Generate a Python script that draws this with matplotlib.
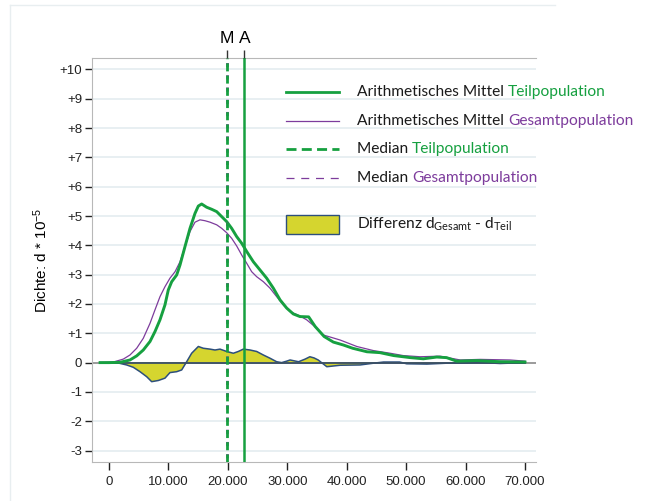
import numpy as np
import matplotlib
matplotlib.use("Agg")
import matplotlib.pyplot as plt
from matplotlib.lines import Line2D
from matplotlib.patches import Rectangle

plt.rcParams['font.family'] = ['Liberation Sans', 'DejaVu Sans']
plt.rcParams['mathtext.default'] = 'regular'

# density of the sub population (green), values in 1e-5
teil_x = [-1500, 0, 1850, 3530, 4660, 5770, 6900, 7740, 8580, 9420, 9980, 10550,
          11390, 11950, 12790, 13630, 14470, 15030, 15590, 16430, 17280, 18120, 18960,
          19800, 20640, 21480, 22330, 23170, 24290, 25410, 26530, 27650, 28780, 29900,
          31010, 32140, 33600, 34700, 36200, 37750, 39450, 41000, 43400, 45600, 47900,
          50700, 52900, 55150, 56800, 58500, 61900, 65800, 70000]
teil_y = [0, 0, 0.01, 0.09, 0.23, 0.43, 0.72, 1.06, 1.46, 1.97, 2.48, 2.76,
          2.99, 3.33, 3.96, 4.58, 5.09, 5.34, 5.41, 5.30, 5.23, 5.15, 4.98,
          4.81, 4.58, 4.30, 4.07, 3.79, 3.44, 3.16, 2.88, 2.54, 2.14, 1.86,
          1.66, 1.57, 1.56, 1.23, 0.89, 0.70, 0.60, 0.49, 0.37, 0.34, 0.24,
          0.17, 0.13, 0.19, 0.17, 0.05, 0.07, 0.03, 0.02]

# density of the whole population (purple)
ges_x = [-1500, 730, 2410, 3530, 4660, 5770, 6900, 7740, 8580, 9420, 10260, 11110,
         11950, 12790, 13630, 14470, 15310, 16150, 17000, 18120, 18960, 19800, 20640,
         21480, 22330, 23170, 24010, 24850, 25970, 27090, 28210, 29330, 30460, 32140,
         33260, 34800, 36100, 38900, 41700, 44500, 47300, 49500, 52350, 55700, 59100,
         62450, 67500, 70000]
ges_y = [0, 0.02, 0.12, 0.26, 0.49, 0.83, 1.34, 1.80, 2.25, 2.59, 2.88, 3.10,
         3.44, 3.96, 4.47, 4.79, 4.87, 4.84, 4.79, 4.70, 4.58, 4.43, 4.24,
         3.98, 3.67, 3.39, 3.10, 2.93, 2.76, 2.54, 2.25, 1.97, 1.74, 1.59,
         1.46, 1.20, 0.94, 0.77, 0.55, 0.41, 0.32, 0.24, 0.20, 0.22, 0.09,
         0.11, 0.09, 0.05]

# difference band (yellow)
diff_x = [-1500, 1290, 2970, 4090, 5220, 6340, 7180, 8300, 9420, 10260, 11390, 12230,
          13070, 13910, 15030, 15870, 17000, 17840, 18680, 19800, 20920, 21760, 22600,
          23730, 24850, 25970, 27090, 28210, 29050, 29900, 30470, 31900, 33000, 33800,
          34500, 35200, 36650, 38900, 42250, 44500, 46200, 48900, 50100, 53500, 56800,
          59200, 62000, 65800, 70000]
diff_y = [0, 0, -0.08, -0.16, -0.31, -0.48, -0.65, -0.61, -0.53, -0.34, -0.31, -0.25,
          0.03, 0.32, 0.55, 0.49, 0.46, 0.43, 0.46, 0.38, 0.32, 0.38, 0.46,
          0.43, 0.38, 0.26, 0.15, 0.03, 0.0, 0.05, 0.09, 0.03, 0.12, 0.20,
          0.16, 0.09, -0.14, -0.09, -0.08, -0.02, 0.02, 0.02, -0.04, -0.05, -0.02,
          -0.02, 0.01, -0.03, 0]

median_x = 19800
mean_x = 22770

yticks = [10, 9, 8, 7, 6, 5, 4, 3, 2, 1, 0, -1, -2, -3]
ytick_labels = ['+10', '+9', '+8', '+7', '+6', '+5', '+4', '+3', '+2', '+1', '0', '-1', '-2', '-3']
xticks = [0, 10000, 20000, 30000, 40000, 50000, 60000, 70000]
xtick_labels = ['0', '10.000', '20.000', '30.000', '40.000', '50.000', '60.000', '70.000']

GREEN = '#16a040'
PURPLE = '#7d3c9c'
YELLOW = '#d5d52f'
EDGE = '#2d4f7c'
GRID = '#e4ecf0'
SPINE = '#b8b8b8'

W, H = 651, 501
fig = plt.figure(figsize=(W / 100, H / 100), dpi=100)

def fx(px):
    return px / W

def fy(py):
    return 1 - py / H

# light frame around chart
fig.add_artist(Line2D([fx(10), fx(10)], [fy(5), 0], color='#e8eef0', lw=1))
fig.add_artist(Line2D([fx(10), fx(555)], [fy(5), fy(5)], color='#e8eef0', lw=1))

ax = fig.add_axes([fx(92), fy(462), fx(536) - fx(92), fy(58) - fy(462)])
ax.set_xlim(-2860, 71850)
ax.set_ylim(-3.39, 10.39)

for yv in yticks:
    if yv != 0:
        ax.axhline(yv, color=GRID, lw=1.2, zorder=0)
ax.axhline(0, color='#8a8a8a', lw=1.2, zorder=1)

ax.fill_between(diff_x, 0, diff_y, facecolor=YELLOW, edgecolor='none', zorder=2)
ax.plot(diff_x, diff_y, color=EDGE, lw=1.1, zorder=3, solid_joinstyle='round')
ax.plot([diff_x[0], diff_x[-1]], [0, 0], color='#3a4f66', lw=1.3, zorder=3)

ax.plot(ges_x, ges_y, color=PURPLE, lw=0.9, zorder=4, solid_joinstyle='round')
ax.plot(teil_x, teil_y, color=GREEN, lw=2.1, zorder=5, solid_joinstyle='round')

ax.axvline(median_x, color=PURPLE, lw=2.0, ls=(2.9, (1.5, 2.9)), zorder=6)
ax.axvline(median_x, color=GREEN, lw=2.0, ls=(0, (2.9, 1.5)), zorder=6)
ax.axvline(mean_x, color=GREEN, lw=1.8, zorder=6)

ax.set_yticks(yticks)
ax.set_yticklabels(ytick_labels)
ax.set_xticks(xticks)
ax.set_xticklabels(xtick_labels)
ax.tick_params(axis='both', labelsize=9.5, colors='#222222', length=5, width=1)
ax.tick_params(axis='y', pad=2)
ax.tick_params(axis='x', length=6, pad=4)
for side in ['left', 'bottom', 'top']:
    ax.spines[side].set_color(SPINE)
ax.spines['right'].set_visible(False)

ax.set_ylabel('Dichte: d * 10$^{-5}$', fontsize=11, labelpad=7)

# M / A markers on top
ax_top = ax.twiny()
ax_top.set_xlim(ax.get_xlim())
ax_top.set_xticks([median_x, mean_x])
ax_top.set_xticklabels(['M', 'A'])
ax_top.tick_params(axis='x', labelsize=12.5, length=6, width=1, color='#333333', pad=3)
for s in ax_top.spines.values():
    s.set_visible(False)

# legend drawn by hand
rows = [
    (92.3, GREEN, 2.0, '-', 'Arithmetisches Mittel ', 'Teilpopulation', GREEN),
    (121.0, PURPLE, 0.9, '-', 'Arithmetisches Mittel ', 'Gesamtpopulation', PURPLE),
    (149.3, GREEN, 2.0, (0, (3.6, 1.9)), 'Median ', 'Teilpopulation', GREEN),
    (178.3, PURPLE, 0.9, (0, (6.4, 5.4)), 'Median ', 'Gesamtpopulation', PURPLE),
]
lfont = ['Lato', 'DejaVu Sans']
LFS = 11.2
for ypx, col, lw, ls, txt, txt2, col2 in rows:
    fig.add_artist(Line2D([fx(286), fx(339)], [fy(ypx), fy(ypx)], color=col, lw=lw, ls=ls))
    t1 = fig.text(fx(357), fy(ypx), txt, fontsize=LFS, family=lfont, va='center', ha='left', color='#1a1a1a')
    ax.annotate(txt2, xy=(1, 0.5), xycoords=t1, va='center', ha='left', fontsize=LFS,
                family=lfont, color=col2, annotation_clip=False)

fig.add_artist(Rectangle((fx(286), fy(234)), fx(339) - fx(286), fy(215) - fy(234),
                         facecolor=YELLOW, edgecolor=EDGE, lw=1, transform=fig.transFigure))
fig.text(fx(357), fy(224), 'Differenz d$_{Gesamt}$ - d$_{Teil}$', fontsize=LFS, family=lfont,
         va='center', ha='left', color='#1a1a1a')

fig.savefig('out.png', dpi=100)
